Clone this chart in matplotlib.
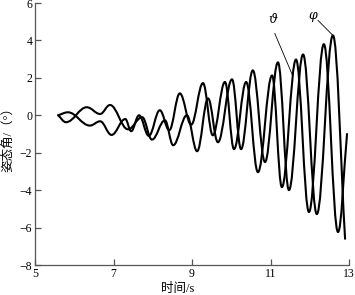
import matplotlib
matplotlib.use('Agg')
import matplotlib.pyplot as plt
from matplotlib.path import Path
from matplotlib.patches import PathPatch

# ---- data (extrema of each curve) ----
theta_t = [5.59, 5.84, 6.40, 6.66, 6.95, 7.30, 7.45, 7.65, 7.90, 8.18, 8.42, 8.69, 8.98,
           9.28, 9.53, 9.84, 10.07, 10.38, 10.68, 11.04, 11.29, 11.65, 11.98, 12.36, 12.72, 12.95]
theta_v = [0.0, 0.16, -0.55, -0.32, -1.05, -0.20, -0.85, 0.00, -1.10, 0.27, -0.80, 1.17, -0.50,
           1.72, -1.07, 1.78, -1.81, 1.78, -3.04, 2.13, -3.84, 2.98, -5.17, 3.80, -6.24, -1.00]

phi_t = [5.59, 5.79, 6.32, 6.66, 6.91, 7.37, 7.73, 7.98, 8.31, 8.52, 8.87, 9.13, 9.41,
         9.66, 10.02, 10.25, 10.55, 10.86, 11.19, 11.47, 11.83, 12.18, 12.59, 12.90]
phi_v = [0.0, -0.37, 0.43, 0.07, 0.55, -0.75, -0.10, -1.30, -0.27, -1.60, 0.00, -1.92, 0.90,
         -1.44, 1.92, -1.81, 2.40, -2.50, 2.83, -4.00, 3.25, -5.28, 4.27, -6.60]

x_ticks = [5, 7, 9, 11, 13]
y_ticks = [-8, -6, -4, -2, 0, 2, 4, 6]
x_label = '时间/s'
y_label = '姿态角/（°）'
theta_name = 'ϑ'
phi_name = 'φ'


def smooth_path(t, v, k=0.38):
    verts = [(t[0], v[0])]
    codes = [Path.MOVETO]
    n = len(t)
    for i in range(n - 1):
        dx = t[i + 1] - t[i]
        if i == 0:
            c1 = (t[i] + k * dx, v[i] + k * (v[i + 1] - v[i]))
        else:
            c1 = (t[i] + k * dx, v[i])
        if i == n - 2:
            c2 = (t[i + 1] - k * dx, v[i + 1] - k * (v[i + 1] - v[i]))
        else:
            c2 = (t[i + 1] - k * dx, v[i + 1])
        verts += [c1, c2, (t[i + 1], v[i + 1])]
        codes += [Path.CURVE4] * 3
    return Path(verts, codes)


fig = plt.figure(figsize=(3.55, 2.95), dpi=100)
ax = fig.add_axes([35 / 355, 30 / 295, 314 / 355, 262 / 295])

for t, v in ((theta_t, theta_v), (phi_t, phi_v)):
    ax.add_patch(PathPatch(smooth_path(t, v), facecolor='none', edgecolor='black',
                           lw=1.5, transform=ax.transData, capstyle='round', joinstyle='round'))

ax.set_xlim(5, 13)
ax.set_ylim(-8, 6)
ax.set_xticks(x_ticks)
ax.set_yticks(y_ticks)
for s in ('top', 'right'):
    ax.spines[s].set_visible(False)
for s in ('left', 'bottom'):
    ax.spines[s].set_color('#555555')
    ax.spines[s].set_linewidth(0.9)
ax.tick_params(direction='in', length=4, width=0.9, color='#555555', pad=2,
               labelsize=8.5, labelcolor='black')
for lab in ax.get_xticklabels() + ax.get_yticklabels():
    lab.set_fontfamily('Liberation Serif')

# curve names with leader lines
ax.text(11.06, 5.12, theta_name, fontsize=9, style='italic', family='DejaVu Serif',
        ha='center', va='center')
ax.plot([11.11, 11.55], [4.37, 2.19], color='black', lw=0.6)
ax.text(12.08, 5.33, phi_name, fontsize=9, style='italic', family='DejaVu Serif',
        ha='center', va='center')
ax.plot([12.21, 12.59], [5.07, 4.27], color='black', lw=0.6)

fig.text(178 / 355, 1 - 289 / 295, x_label, ha='center', va='center', fontsize=9,
         family=['Liberation Serif', 'Noto Sans CJK SC'])
fig.text(8 / 355, 1 - 137 / 295, y_label, ha='center', va='center', fontsize=9,
         rotation=90, family=['Liberation Serif', 'Noto Sans CJK SC'])

fig.savefig('out.png', dpi=100)
